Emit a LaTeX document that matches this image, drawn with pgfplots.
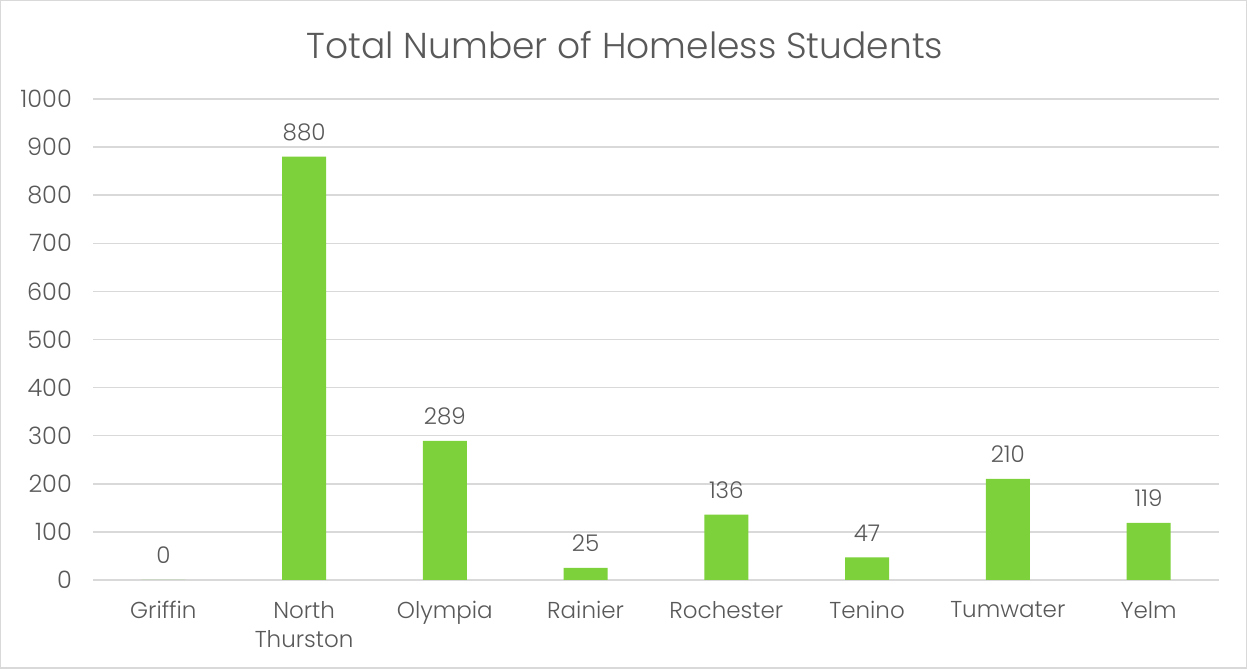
\documentclass[border=0pt]{standalone}
\usepackage{fontspec}
\setmainfont{Poppins Light}
\usepackage{pgfplots}
\pgfplotsset{compat=1.18}
\definecolor{bargreen}{HTML}{7DD13B}
\definecolor{txt}{HTML}{595959}
\definecolor{gridc}{HTML}{D9D9D9}
\begin{document}
\begin{tikzpicture}[x=1bp,y=1bp]
\fill[white] (0,0) rectangle (1247,669);
\draw[gridc, line width=1.5bp] (0.75,0.75) rectangle (1246.25,668.25);
\begin{axis}[at={(93bp,89bp)}, anchor=south west, scale only axis,
  width=1126bp, height=481bp,
  xmin=-0.5, xmax=7.5, ymin=0, ymax=1000,
  ytick={0,100,...,1000}, xtick={0,...,7},
  xticklabels={Griffin, North\\Thurston, Olympia, Rainier, Rochester, Tenino, Tumwater, Yelm},
  xticklabel style={align=center, font=\fontsize{23bp}{29bp}\selectfont, text=txt, anchor=north, inner sep=0pt, yshift=-21bp},
  yticklabel style={font=\fontsize{24bp}{26bp}\selectfont, text=txt, anchor=east, inner sep=0pt, xshift=-21bp},
  /pgf/number format/assume math mode=true,
  /pgf/number format/1000 sep={},
  axis line style={draw=none}, major tick length=0pt,
  ymajorgrids, grid style={gridc, line width=1.5bp},
  ybar, bar width=44bp,
  nodes near coords,
  nodes near coords style={font=\fontsize{23bp}{26bp}\selectfont, text=txt, anchor=south, inner sep=0pt, yshift=16bp},
  clip=false]
\addplot[fill=bargreen, draw=none] coordinates {(0,0) (1,880) (2,289) (3,25) (4,136) (5,47) (6,210) (7,119)};
\end{axis}
\node[font=\fontsize{36bp}{40bp}\selectfont, text=txt] at (625,624) {Total Number of Homeless Students};
\end{tikzpicture}
\end{document}
